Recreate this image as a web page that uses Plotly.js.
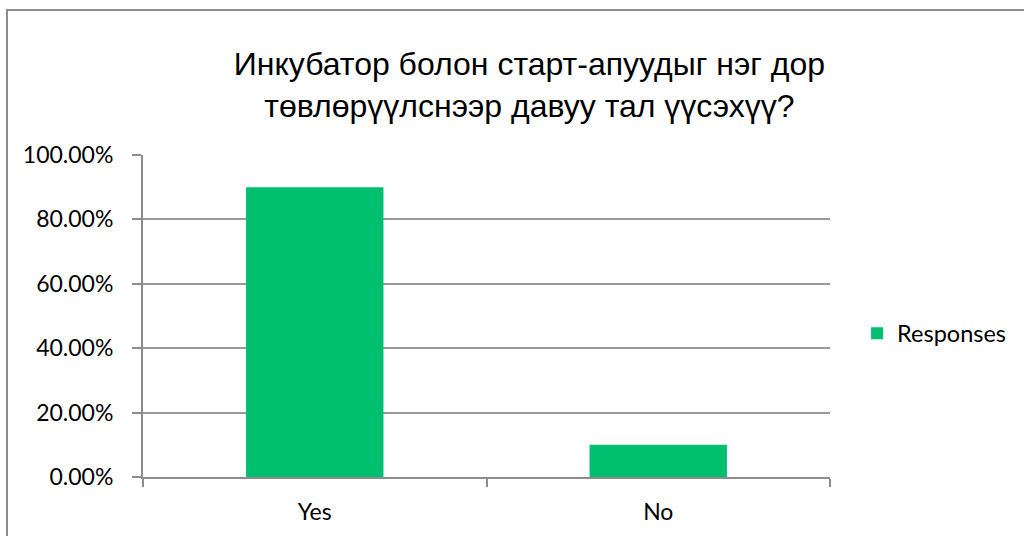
<!DOCTYPE html>
<html>
<head>
<meta charset="utf-8">
<script src="https://cdn.plot.ly/plotly-3.0.1.min.js"></script>
<style>
  html, body { margin: 0; padding: 0; background: #fff; overflow: hidden; }
  #frame { position: absolute; left: 6px; top: 9px; width: 1100px; height: 600px;
           border-left: 2px solid #8c8c8c; border-top: 2px solid #8c8c8c; }
  #chart { position: absolute; left: 0; top: 0; width: 1024px; height: 536px; }
</style>
</head>
<body>
<div id="frame"></div>
<div id="chart"></div>
<script>
const categories = ['Yes', 'No'];
const responses = [0.90, 0.10];
const seriesName = 'Responses';
const titleText = 'Инкубатор болон старт-апуудыг нэг дор<br>төвлөрүүлснээр давуу тал үүсэхүү?';

const trace = {
  type: 'bar',
  x: categories,
  y: responses,
  name: seriesName,
  marker: { color: '#00bf6f' },
  width: 0.4,
  showlegend: true,
  hoverinfo: 'none'
};

const tickFont = { family: 'Lato, "Open Sans", sans-serif', size: 23, color: '#000' };

const layout = {
  width: 1024, height: 536,
  margin: { l: 143, r: 194, t: 155, b: 59 },
  paper_bgcolor: 'rgba(0,0,0,0)',
  plot_bgcolor: 'rgba(0,0,0,0)',
  title: {
    text: titleText,
    font: { family: '"Liberation Sans", Arial, sans-serif', size: 32, color: '#000' },
    xref: 'container', x: 0.517, xanchor: 'center',
    yref: 'container', y: 0.86, yanchor: 'top'
  },
  xaxis: {
    type: 'category',
    showline: true, linecolor: '#8c8c8c', linewidth: 2,
    ticks: 'outside', tickson: 'boundaries', ticklen: 8, tickcolor: '#8c8c8c', tickwidth: 2,
    tickfont: tickFont,
    showgrid: false, zeroline: false,
    ticklabelstandoff: 13
  },
  yaxis: {
    range: [0, 1],
    dtick: 0.2,
    tickformat: '.2%',
    showline: true, linecolor: '#8c8c8c', linewidth: 2,
    ticks: 'outside', ticklen: 9, tickcolor: '#8c8c8c', tickwidth: 2,
    showgrid: true, gridcolor: '#999999', gridwidth: 2,
    zeroline: false,
    tickfont: tickFont,
    ticklabelstandoff: 14
  },
  legend: {
    xref: 'container', x: 0.837, xanchor: 'left',
    yref: 'container', y: 0.378, yanchor: 'middle',
    font: { family: 'Lato, "Open Sans", sans-serif', size: 23.5, color: '#000' },
    bgcolor: 'rgba(0,0,0,0)'
  },
  bargap: 0.6
};

Plotly.newPlot('chart', [trace], layout, { staticPlot: true, displayModeBar: false });
</script>
</body>
</html>
